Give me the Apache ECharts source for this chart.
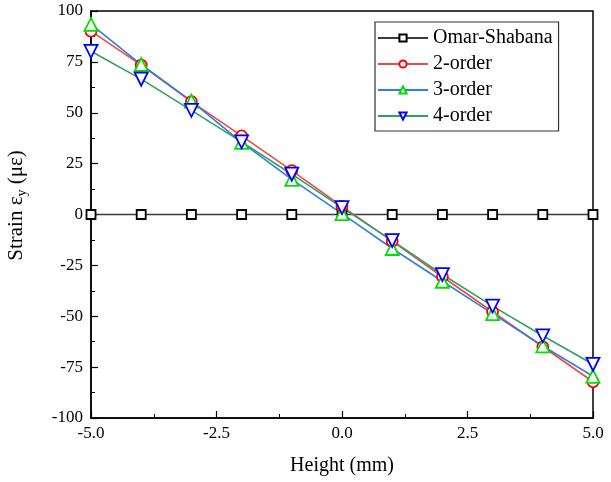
<!DOCTYPE html>
<html>
<head>
<meta charset="utf-8">
<script src="https://cdn.jsdelivr.net/npm/echarts@6/dist/echarts.min.js"></script>
<style>
html,body{margin:0;padding:0;background:#fff;}
#chart{width:611px;height:482px;}
</style>
</head>
<body>
<div id="chart"></div>
<script>
// Height positions across the section (mm)
const heights = [-5, -4, -3, -2, -1, 0, 1, 2, 3, 4, 5];
// Strain εy (με) for each model
const omarShabana = [0, 0, 0, 0, 0, 0, 0, 0, 0, 0, 0];
const order2 = [90.1, 73.4, 55.5, 38.6, 21.6, 4.0, -13.1, -30.6, -47.8, -65.0, -82.2];
const order3 = [93.4, 73.7, 55.7, 35.4, 17.3, 0.4, -16.7, -32.8, -48.7, -64.6, -79.5];
const order4 = [80.2, 66.5, 51.2, 35.7, 19.8, 3.4, -12.8, -29.5, -45.0, -59.6, -73.6];
const seriesNames = ['Omar-Shabana', '2-order', '3-order', '4-order'];

const font = 'Liberation Serif, "Times New Roman", serif';
const pairs = ys => heights.map((h, i) => [h, ys[i]]);
const downTri = 'path://M0,0 L20,0 L10,17.3 Z';

function makeSeries(name, ys, symbol, size, lineColor, markColor) {
  return {
    name: name,
    type: 'line',
    data: pairs(ys),
    symbol: symbol,
    symbolSize: size,
    showAllSymbol: true,
    lineStyle: { color: lineColor, width: 1.6 },
    itemStyle: { color: '#ffffff', borderColor: markColor, borderWidth: 1.8 },
    z: 3
  };
}

const chart = echarts.init(document.getElementById('chart'), null, { renderer: 'canvas' });
chart.setOption({
  animation: false,
  backgroundColor: '#ffffff',
  grid: {
    left: 91, right: 18, top: 11, bottom: 64,
    containLabel: false, outerBoundsMode: 'none',
    show: true, borderColor: '#000', borderWidth: 1.5, backgroundColor: 'transparent'
  },
  legend: {
    orient: 'vertical',
    left: 375, top: 22,
    data: seriesNames,
    itemWidth: 50, itemHeight: 9, itemGap: 6,
    padding: [6, 6, 5, 2],
    borderColor: '#333', borderWidth: 1.2,
    textStyle: { fontFamily: font, fontSize: 20, color: '#000' }
  },
  xAxis: {
    type: 'value',
    min: -5, max: 5, interval: 2.5,
    name: 'Height (mm)',
    nameLocation: 'middle', nameGap: 38,
    nameTextStyle: { fontFamily: font, fontSize: 20, color: '#000' },
    axisLine: { onZero: false, lineStyle: { color: '#000', width: 1.5 } },
    axisTick: { inside: true, length: 7, lineStyle: { color: '#000', width: 1.2 } },
    minorTick: { show: true, splitNumber: 2, length: 4, lineStyle: { color: '#000', width: 1 } },
    splitLine: { show: false },
    axisLabel: {
      fontFamily: font, fontSize: 17, color: '#000', margin: 7,
      formatter: v => v.toFixed(1)
    }
  },
  yAxis: {
    type: 'value',
    min: -100, max: 100, interval: 25,
    name: 'Strain ε{sub|y} (με)',
    nameLocation: 'middle', nameGap: 62, nameRotate: 90,
    nameTextStyle: {
      fontFamily: font, fontSize: 21, color: '#000',
      padding: [0, 0, 0, 18],
      rich: { sub: { fontFamily: font, fontSize: 14, color: '#000', verticalAlign: 'bottom', padding: [12, 0, 0, 0] } }
    },
    axisLine: { onZero: false, lineStyle: { color: '#000', width: 1.5 } },
    axisTick: { inside: true, length: 7, lineStyle: { color: '#000', width: 1.2 } },
    minorTick: { show: true, splitNumber: 2, length: 4, lineStyle: { color: '#000', width: 1 } },
    splitLine: { show: false },
    axisLabel: { fontFamily: font, fontSize: 17, color: '#000', margin: 8 }
  },
  series: [
    makeSeries(seriesNames[0], omarShabana, 'rect', 9, '#3a3a3a', '#000000'),
    makeSeries(seriesNames[1], order2, 'circle', 11, '#f04848', '#ff0000'),
    makeSeries(seriesNames[2], order3, 'triangle', 13, '#2f7fe0', '#00e000'),
    makeSeries(seriesNames[3], order4, downTri, 13, '#30a060', '#0000ff')
  ]
});
</script>
</body>
</html>
